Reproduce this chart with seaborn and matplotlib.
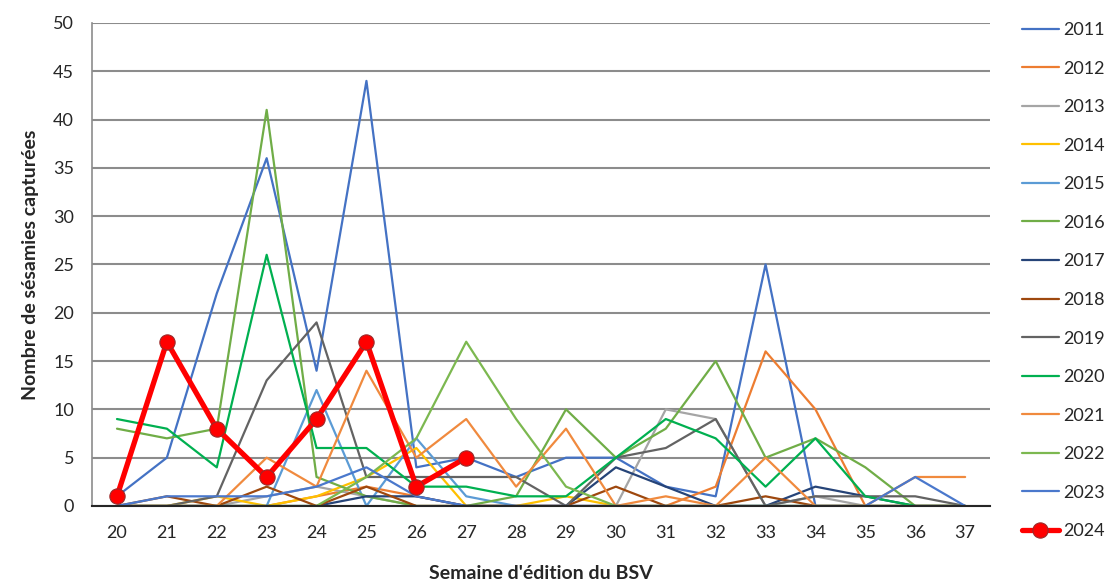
"""
Captures de sésamies par semaine d'édition du BSV, campagnes 2011 à 2024.
"""

import numpy as np
import pandas as pd
import matplotlib
matplotlib.use("Agg")
import matplotlib.pyplot as plt
import seaborn as sns

nan = np.nan

semaines = list(range(20, 38))

# Valeurs (une liste par campagne, semaines 20 à 37)
y2011 = [1, 5, 22, 36, 14, 44, 4, 5, 3, 5, 5, 2, 1, 25, 0, 0, 0, 0]
y2012 = [0, 0, 0, 0, 1, 2, 1, 0, 0, 0, 0, 0, 2, 16, 10, 0, nan, nan]
y2013 = [0, 0, 0, 1, 2, 1, 0, 0, 0, 0, 0, 10, 9, 0, 1, 0, 0, 0]
y2014 = [0, 0, 1, 0, 1, 3, 6, 0, 0, 1, 0, 0, 0, 0, 0, 0, 0, 0]
y2015 = [0, 0, 0, 0, 12, 0, 7, 1, 0, 0, 0, 0, 0, 0, 0, 0, 0, 0]
y2016 = [8, 7, 8, 41, 3, 1, 0, 0, 1, 10, 5, 8, 15, 5, 7, 4, 0, 0]
y2017 = [0, 0, 0, 0, 0, 1, 1, 0, 0, 0, 4, 2, 0, 0, 2, 1, 0, 0]
y2018 = [0, 1, 0, 2, 0, 2, 0, 0, 0, 0, 2, 0, 0, 1, 0, 0, 0, 0]
y2019 = [0, 0, 1, 13, 19, 3, 3, 3, 3, 0, 5, 6, 9, 0, 1, 1, 1, 0]
y2020 = [9, 8, 4, 26, 6, 6, 2, 2, 1, 1, 5, 9, 7, 2, 7, 1, 0, nan]
y2021 = [0, 0, 0, 5, 2, 14, 5, 9, 2, 8, 0, 1, 0, 5, 0, 0, 3, 3]
y2022 = [0, 0, 0, 0, 0, 3, 7, 17, 9, 2, 0, 0, 0, 0, 0, 0, 0, 0]
y2023 = [0, 1, 1, 1, 2, 4, 1, 0, 0, 0, 0, 0, 0, 0, 0, 0, 3, 0]
y2024 = [1, 17, 8, 3, 9, 17, 2, 5, nan, nan, nan, nan, nan, nan, nan, nan, nan, nan]

annees = ["2011", "2012", "2013", "2014", "2015", "2016", "2017",
          "2018", "2019", "2020", "2021", "2022", "2023", "2024"]
series = [y2011, y2012, y2013, y2014, y2015, y2016, y2017,
          y2018, y2019, y2020, y2021, y2022, y2023, y2024]

couleurs = {
    "2011": "#4472C4", "2012": "#ED7D31", "2013": "#A5A5A5", "2014": "#FFC000",
    "2015": "#5B9BD5", "2016": "#70AD47", "2017": "#264478", "2018": "#9E480E",
    "2019": "#636363", "2020": "#00B050", "2021": "#F08A3E", "2022": "#7CB850",
    "2023": "#4A78CC", "2024": "#FF0000",
}

sns.set_style("white")
plt.rcParams["font.family"] = ["Lato", "DejaVu Sans"]

fig = plt.figure(figsize=(11.05, 5.88), dpi=100)
ax = fig.add_axes([0.0833, 0.1395, 0.8127, 0.8215])

for annee, valeurs in zip(annees, series):
    df = pd.DataFrame({"semaine": semaines, "captures": valeurs}).dropna()
    if annee == "2024":
        sns.lineplot(data=df, x="semaine", y="captures", ax=ax, color=couleurs[annee],
                     linewidth=3.8, marker="o", markersize=11, markeredgecolor="#9a2a2a",
                     markeredgewidth=0.8, label=annee, sort=False, zorder=5)
    else:
        sns.lineplot(data=df, x="semaine", y="captures", ax=ax, color=couleurs[annee],
                     linewidth=1.6, label=annee, sort=False)

ax.set_xlim(19.5, 37.5)
ax.set_ylim(0, 50)
ax.set_yticks(range(0, 51, 5))
ax.set_xticks(semaines)
ax.set_xticklabels([str(s) for s in semaines])
ax.set_xticks(np.arange(19.5, 38, 1), minor=True)
ax.tick_params(axis="x", which="major", length=0, labelsize=13, pad=14, colors="#262626")
ax.tick_params(axis="x", which="minor", length=6, width=1.2, color="#262626", direction="out")
ax.tick_params(axis="y", length=0, labelsize=13, pad=13, colors="#262626")

ax.grid(axis="y", color="#8c8c8c", linewidth=1.5)
ax.grid(axis="x", visible=False)
ax.set_axisbelow(True)
for side in ["top", "right"]:
    ax.spines[side].set_visible(False)
ax.spines["left"].set_color("#8c8c8c")
ax.spines["left"].set_linewidth(1.2)
ax.spines["bottom"].set_color("#262626")
ax.spines["bottom"].set_linewidth(1.5)

ax.set_xlabel("Semaine d'édition du BSV", fontsize=14, fontweight="bold", labelpad=17)
ax.set_ylabel("Nombre de sésamies capturées", fontsize=14, fontweight="bold", labelpad=10)

ax.legend(loc="upper left", bbox_to_anchor=(1.036, 1.002), frameon=False, fontsize=13,
          labelspacing=1.25, handlelength=2.0, handletextpad=0.25, borderpad=0,
          borderaxespad=0)

fig.savefig("out.png", dpi=100)
